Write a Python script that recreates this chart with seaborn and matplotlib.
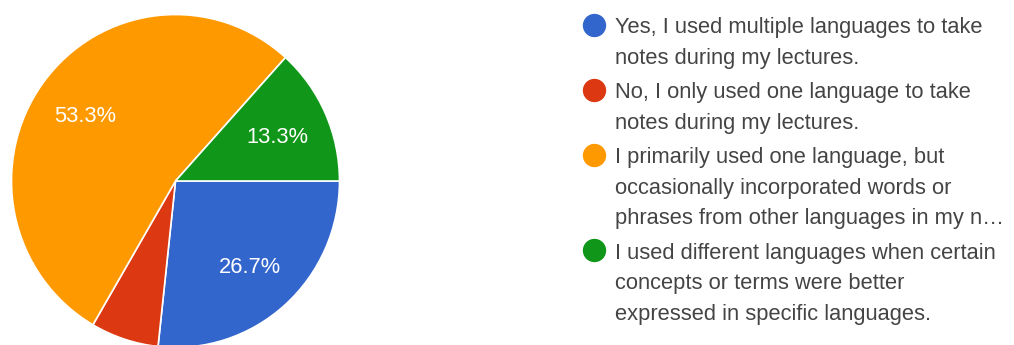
import matplotlib
matplotlib.use("Agg")
import matplotlib.pyplot as plt
import seaborn as sns

sns.set_theme(style="white")
plt.rcParams["font.family"] = ["Liberation Sans", "DejaVu Sans"]

# Survey responses (percent of respondents)
answers = [
    "Yes, I used multiple languages to take\nnotes during my lectures.",
    "No, I only used one language to take\nnotes during my lectures.",
    "I primarily used one language, but\noccasionally incorporated words or\nphrases from other languages in my n\u2026",
    "I used different languages when certain\nconcepts or terms were better\nexpressed in specific languages.",
]
shares = [26.7, 6.7, 53.3, 13.3]
colors = ["#3366CC", "#DC3912", "#FF9900", "#109618"]

W, H = 1014, 345
FS = 15.75
fig = plt.figure(figsize=(W / 100, H / 100), dpi=100)
fig.patch.set_facecolor("white")

# Pie drawn in a pixel-sized data space; slight vertical stretch of the disc
ax = fig.add_axes([0, 0, 1, 1])
sy = 1.015
cx, cy, r = 175.5, (H - 181) / sy, 164


def pct_label(p):
    return f"{p:.1f}%" if p >= 10 else ""


wedges, texts, autotexts = ax.pie(
    shares,
    colors=colors,
    startangle=0,
    counterclock=False,
    radius=r,
    center=(cx, cy),
    autopct=pct_label,
    pctdistance=0.68,
    wedgeprops=dict(edgecolor="white", linewidth=1.2),
    textprops=dict(color="white", fontsize=FS),
    frame=False,
)
for t in autotexts:
    t.set_verticalalignment("center_baseline")
ax.set_aspect("auto")
ax.set_xlim(0, W)
ax.set_ylim(0, H / sy)
ax.axis("off")

# Legend: coloured dot next to the first line of each wrapped answer
line_h = 30.7
item_gap = 3.6
text_x = 615 / W
dot_x = 594 / W
y = 25.0
for label, color in zip(answers, colors):
    fig.lines.append(plt.Line2D([dot_x], [1 - (y - 0.5) / H], marker="o", markersize=15.8,
                                color=color, transform=fig.transFigure, linestyle="none"))
    for line in label.split("\n"):
        fig.text(text_x, 1 - y / H, line, color="#444444", fontsize=FS,
                 va="center_baseline", ha="left")
        y += line_h
    y += item_gap

fig.savefig("out.png", dpi=100, facecolor="white")
